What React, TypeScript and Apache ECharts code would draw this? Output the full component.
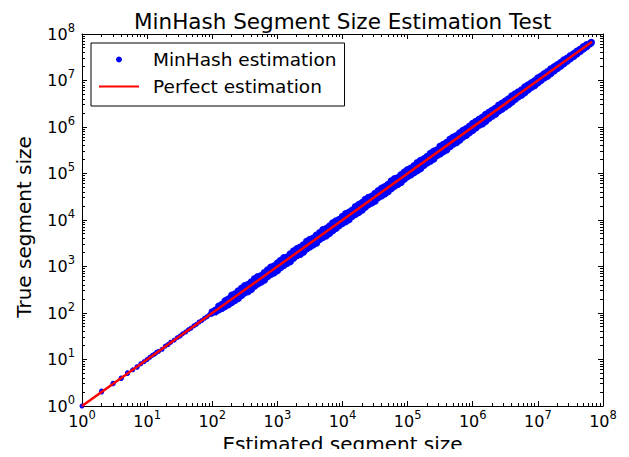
import React, { useEffect, useRef } from "react";
import * as echarts from "echarts";

const TITLE = "MinHash Segment Size Estimation Test";

// Low range (near-exact estimates)
const lowEstimated = [1, 2, 2, 3, 3, 4, 4, 5, 5, 6, 7, 7, 8, 9, 10, 11, 12, 13, 14, 15, 17, 19, 21, 23, 26, 29, 32, 35, 39, 43, 47, 52, 57, 63, 69, 76, 83, 90, 95, 98];
const lowTrue = [1, 2, 2.1, 3, 3.1, 4, 3.9, 5, 5.2, 6, 7, 6.8, 8.1, 9, 10, 11.2, 12.3, 13, 14.3, 15, 16.6, 19.4, 21, 23.5, 26, 29.5, 32, 35.6, 39, 43.8, 47, 52.8, 57, 64, 69, 77, 83, 91.5, 98, 94];

// Upper edge of the band
const upperEstimated = [
  1.0e2, 1.26e2, 1.58e2, 2.0e2, 2.51e2, 3.16e2, 3.98e2, 5.01e2, 6.31e2, 7.94e2,
  1.0e3, 1.26e3, 1.58e3, 2.0e3, 2.51e3, 3.16e3, 3.98e3, 5.01e3, 6.31e3, 7.94e3,
  1.0e4, 1.26e4, 1.58e4, 2.0e4, 2.51e4, 3.16e4, 3.98e4, 5.01e4, 6.31e4, 7.94e4,
  1.0e5, 1.26e5, 1.58e5, 2.0e5, 2.51e5, 3.16e5, 3.98e5, 5.01e5, 6.31e5, 7.94e5,
  1.0e6, 1.26e6, 1.58e6, 2.0e6, 2.51e6, 3.16e6, 3.98e6, 5.01e6, 6.31e6, 7.94e6,
  1.0e7, 1.26e7, 1.58e7, 2.0e7, 2.51e7, 3.16e7, 3.98e7, 5.01e7, 6.6e7,
];
const upperTrue = [
  1.05e2, 1.39e2, 1.82e2, 2.4e2, 2.96e2, 3.86e2, 4.66e2, 6.01e2, 7.32e2, 9.61e2,
  1.18e3, 1.54e3, 1.85e3, 2.4e3, 2.91e3, 3.82e3, 4.7e3, 6.16e3, 7.38e3, 9.53e3,
  1.19e4, 1.46e4, 1.93e4, 2.36e4, 3.04e4, 3.7e4, 4.78e4, 5.81e4, 7.7e4, 9.37e4,
  1.2e5, 1.47e5, 1.91e5, 2.32e5, 2.99e5, 3.86e5, 4.66e5, 6.01e5, 7.45e5, 9.13e5,
  1.19e6, 1.46e6, 1.86e6, 2.3e6, 2.94e6, 3.6e6, 4.62e6, 5.66e6, 7.26e6, 8.89e6,
  1.13e7, 1.39e7, 1.77e7, 2.18e7, 2.76e7, 3.41e7, 4.26e7, 5.31e7, 6.53e7,
];
const upperMidEstimated = [
  1.12e2, 1.41e2, 1.78e2, 2.24e2, 2.82e2, 3.55e2, 4.47e2, 5.62e2, 7.08e2, 8.91e2,
  1.12e3, 1.41e3, 1.78e3, 2.24e3, 2.82e3, 3.55e3, 4.47e3, 5.62e3, 7.08e3, 8.91e3,
  1.12e4, 1.41e4, 1.78e4, 2.24e4, 2.82e4, 3.55e4, 4.47e4, 5.62e4, 7.08e4, 8.91e4,
  1.12e5, 1.41e5, 1.78e5, 2.24e5, 2.82e5, 3.55e5, 4.47e5, 5.62e5, 7.08e5, 8.91e5,
  1.12e6, 1.41e6, 1.78e6, 2.24e6, 2.82e6, 3.55e6, 4.47e6, 5.62e6, 7.08e6, 8.91e6,
  1.12e7, 1.41e7, 1.78e7, 2.24e7, 2.82e7, 3.55e7, 4.47e7, 5.62e7,
];
const upperMidTrue = [
  1.15e2, 1.52e2, 1.99e2, 2.55e2, 3.38e2, 4.08e2, 5.45e2, 6.35e2, 8.43e2, 1.02e3,
  1.34e3, 1.59e3, 2.15e3, 2.58e3, 3.44e3, 4.05e3, 5.32e3, 6.52e3, 8.64e3, 1.02e4,
  1.36e4, 1.62e4, 2.14e4, 2.76e4, 3.24e4, 4.26e4, 5.19e4, 6.86e4, 8.07e4, 1.07e5,
  1.29e5, 1.71e5, 2.06e5, 2.69e5, 3.21e5, 4.22e5, 5.41e5, 6.46e5, 8.43e5, 1.03e6,
  1.31e6, 1.61e6, 2.06e6, 2.53e6, 3.24e6, 3.98e6, 5.1e6, 6.24e6, 8.0e6, 9.8e6,
  1.24e7, 1.54e7, 1.96e7, 2.42e7, 3.02e7, 3.76e7, 4.69e7, 5.84e7,
];

// Lower edge of the band
const lowerEstimated = [
  1.12e2, 1.41e2, 1.78e2, 2.24e2, 2.82e2, 3.55e2, 4.47e2, 5.62e2, 7.08e2, 8.91e2,
  1.12e3, 1.41e3, 1.78e3, 2.24e3, 2.82e3, 3.55e3, 4.47e3, 5.62e3, 7.08e3, 8.91e3,
  1.12e4, 1.41e4, 1.78e4, 2.24e4, 2.82e4, 3.55e4, 4.47e4, 5.62e4, 7.08e4, 8.91e4,
  1.12e5, 1.41e5, 1.78e5, 2.24e5, 2.82e5, 3.55e5, 4.47e5, 5.62e5, 7.08e5, 8.91e5,
  1.12e6, 1.41e6, 1.78e6, 2.24e6, 2.82e6, 3.55e6, 4.47e6, 5.62e6, 7.08e6, 8.91e6,
  1.12e7, 1.41e7, 1.78e7, 2.24e7, 2.82e7, 3.55e7, 4.47e7, 5.62e7,
];
const lowerTrue = [
  1.06e2, 1.27e2, 1.53e2, 1.88e2, 2.4e2, 2.91e2, 3.8e2, 4.66e2, 6.09e2, 7.31e2,
  9.52e2, 1.17e3, 1.53e3, 1.84e3, 2.4e3, 2.95e3, 3.84e3, 4.61e3, 5.95e3, 7.57e3,
  9.3e3, 1.21e4, 1.46e4, 1.9e4, 2.34e4, 3.05e4, 3.67e4, 4.78e4, 5.88e4, 7.66e4,
  9.41e4, 1.16e5, 1.51e5, 1.86e5, 2.43e5, 2.98e5, 3.8e5, 4.66e5, 6.09e5, 7.57e5,
  9.63e5, 1.18e6, 1.55e6, 1.9e6, 2.45e6, 3.05e6, 3.93e6, 4.89e6, 6.3e6, 7.84e6,
  1.01e7, 1.25e7, 1.62e7, 2.06e7, 2.62e7, 3.34e7, 4.25e7, 5.4e7,
];
const lowerMidEstimated = [
  1.26e2, 1.58e2, 2.0e2, 2.51e2, 3.16e2, 3.98e2, 5.01e2, 6.31e2, 7.94e2,
  1.0e3, 1.26e3, 1.58e3, 2.0e3, 2.51e3, 3.16e3, 3.98e3, 5.01e3, 6.31e3, 7.94e3,
  1.0e4, 1.26e4, 1.58e4, 2.0e4, 2.51e4, 3.16e4, 3.98e4, 5.01e4, 6.31e4, 7.94e4,
  1.0e5, 1.26e5, 1.58e5, 2.0e5, 2.51e5, 3.16e5, 3.98e5, 5.01e5, 6.31e5, 7.94e5,
  1.0e6, 1.26e6, 1.58e6, 2.0e6, 2.51e6, 3.16e6, 3.98e6, 5.01e6, 6.31e6, 7.94e6,
  1.0e7, 1.26e7, 1.58e7, 2.0e7, 2.51e7, 3.16e7, 3.98e7, 5.01e7, 6.31e7,
];
const lowerMidTrue = [
  1.17e2, 1.39e2, 1.7e2, 2.08e2, 2.72e2, 3.26e2, 4.26e2, 5.11e2, 6.83e2,
  8.2e2, 1.07e3, 1.28e3, 1.72e3, 2.06e3, 2.65e3, 3.22e3, 4.26e3, 5.17e3, 6.67e3,
  8.5e3, 1.02e4, 1.33e4, 1.64e4, 2.16e4, 2.56e4, 3.34e4, 4.11e4, 5.36e4, 6.51e4,
  8.6e4, 1.05e5, 1.28e5, 1.7e5, 2.06e5, 2.65e5, 3.26e5, 4.31e5, 5.24e5, 6.67e5,
  8.5e5, 1.1e6, 1.33e6, 1.72e6, 2.21e6, 2.72e6, 3.46e6, 4.46e6, 5.49e6, 7.15e6,
  8.9e6, 1.15e7, 1.42e7, 1.84e7, 2.33e7, 2.97e7, 3.78e7, 4.81e7, 6.18e7,
];

// Perfect estimation line endpoints
const perfectEstimated = [1, 6.8e7];
const perfectTrue = [1, 6.8e7];

// Axis ticks
const majorTicks = [1, 10, 100, 1e3, 1e4, 1e5, 1e6, 1e7, 1e8];
const minorMultipliers = [2, 3, 4, 5, 6, 7, 8, 9];

const FONT = "DejaVu Sans";

export default function App() {
  const ref = useRef<HTMLDivElement>(null);
  useEffect(() => {
    if (!ref.current) return;
    const chart = echarts.init(ref.current, undefined, { renderer: "svg" });

    const pairs = (xs: number[], ys: number[]) => xs.map((x, i) => [x, ys[i]]);
    const lowData = pairs(lowEstimated, lowTrue);
    const bandData = [
      ...pairs(upperEstimated, upperTrue),
      ...pairs(upperMidEstimated, upperMidTrue),
      ...pairs(lowerEstimated, lowerTrue),
      ...pairs(lowerMidEstimated, lowerMidTrue),
    ];
    const lineData = pairs(perfectEstimated, perfectTrue);

    const minorTicks: number[][] = [];
    majorTicks.slice(0, -1).forEach((m) =>
      minorMultipliers.forEach((k) => minorTicks.push([m * k, m * k]))
    );

    const labelFmt = (v: number) => {
      const e = Math.round(Math.log10(v));
      return `{b|10}{s|${e}}`;
    };
    const rich = {
      b: { fontSize: 16, fontFamily: FONT, color: "#000" },
      s: { fontSize: 11.5, fontFamily: FONT, color: "#000", padding: [0, 0, 13, 0] },
    };

    const axisBase: any = {
      type: "log",
      logBase: 10,
      min: 1,
      max: 1e8,
      splitNumber: 8,
      nameMoveOverlap: false,
      axisLine: { show: true, lineStyle: { color: "#000", width: 1 } },
      axisTick: { show: true, inside: true, length: 5, lineStyle: { color: "#000", width: 1 } },
      splitLine: { show: false },
      minorTick: { show: false },
    };

    const crisp = (v: number) => Math.round(v - 0.5) + 0.5;

    chart.setOption({
      animation: false,
      backgroundColor: "#fff",
      graphic: [
        {
          type: "text",
          x: 134,
          y: 10,
          silent: true,
          style: {
            text: TITLE,
            fontFamily: FONT,
            fontSize: 21.5,
            fill: "#000",
            align: "left",
            verticalAlign: "top",
          },
        },
      ],
      grid: { left: 82, right: 26, top: 34, bottom: 51, containLabel: false, outerBoundsMode: "none" },
      legend: {
        orient: "vertical",
        left: 91,
        top: 43,
        padding: [7, 8, 10, 7],
        itemGap: 8,
        itemWidth: 40,
        itemHeight: 6,
        borderColor: "#000",
        borderWidth: 1,
        borderRadius: 0,
        backgroundColor: "#fff",
        textStyle: { fontFamily: FONT, fontSize: 18.5, color: "#000", lineHeight: 19, padding: [0, 0, 0, 9] },
        data: [
          { name: "MinHash estimation", icon: "circle" },
          { name: "Perfect estimation", itemStyle: { opacity: 0, color: "rgba(0,0,0,0)", borderWidth: 0 } },
        ],
      },
      xAxis: [
        {
          ...axisBase,
          position: "bottom",
          name: "Estimated segment size",
          nameLocation: "middle",
          nameGap: 28,
          nameTextStyle: { fontFamily: FONT, fontSize: 20, color: "#000" },
          axisLabel: { show: true, margin: 3, formatter: labelFmt, rich, showMinLabel: true, showMaxLabel: true },
        },
        { ...axisBase, position: "top", axisLabel: { show: false } },
      ],
      yAxis: [
        {
          ...axisBase,
          position: "left",
          name: "True segment size",
          nameLocation: "middle",
          nameGap: 48,
          nameTextStyle: { fontFamily: FONT, fontSize: 20, color: "#000", padding: [0, 14, 0, 0] },
          axisLabel: { show: true, margin: 7, formatter: labelFmt, rich, showMinLabel: true, showMaxLabel: true },
        },
        { ...axisBase, position: "right", axisLabel: { show: false } },
      ],
      series: [
        {
          name: "MinHash estimation",
          type: "scatter",
          data: bandData,
          symbol: "circle",
          symbolSize: 7.5,
          itemStyle: { color: "#0000ff", opacity: 1 },
          z: 2,
        },
        {
          name: "MinHash estimation",
          type: "scatter",
          data: lowData,
          symbol: "circle",
          symbolSize: 5,
          itemStyle: { color: "#0000ff", opacity: 1 },
          z: 2,
        },
        {
          name: "Perfect estimation",
          type: "line",
          data: lineData,
          symbol: "none",
          lineStyle: { color: "#ff0000", width: 2.5 },
          itemStyle: { color: "#ff0000" },
          z: 3,
        },
        {
          name: "minorTicks",
          type: "custom",
          data: minorTicks,
          clip: false,
          silent: true,
          z: 4,
          renderItem: (params: any, api: any) => {
            const v = api.value(0);
            const b = api.coord([v, 1]);
            const t = api.coord([v, 1e8]);
            const l = api.coord([1, v]);
            const r = api.coord([1e8, v]);
            const L = 3;
            const st = { stroke: "#000", lineWidth: 1 };
            const bx = crisp(b[0]);
            const ly = crisp(l[1]);
            return {
              type: "group",
              children: [
                { type: "line", shape: { x1: bx, y1: b[1], x2: bx, y2: b[1] - L }, style: st },
                { type: "line", shape: { x1: bx, y1: t[1], x2: bx, y2: t[1] + L }, style: st },
                { type: "line", shape: { x1: l[0], y1: ly, x2: l[0] + L, y2: ly }, style: st },
                { type: "line", shape: { x1: r[0], y1: ly, x2: r[0] - L, y2: ly }, style: st },
              ],
            };
          },
        },
      ],
    });
    return () => chart.dispose();
  }, []);
  return <div ref={ref} style={{ width: 629, height: 457, margin: -8 }} />;
}
